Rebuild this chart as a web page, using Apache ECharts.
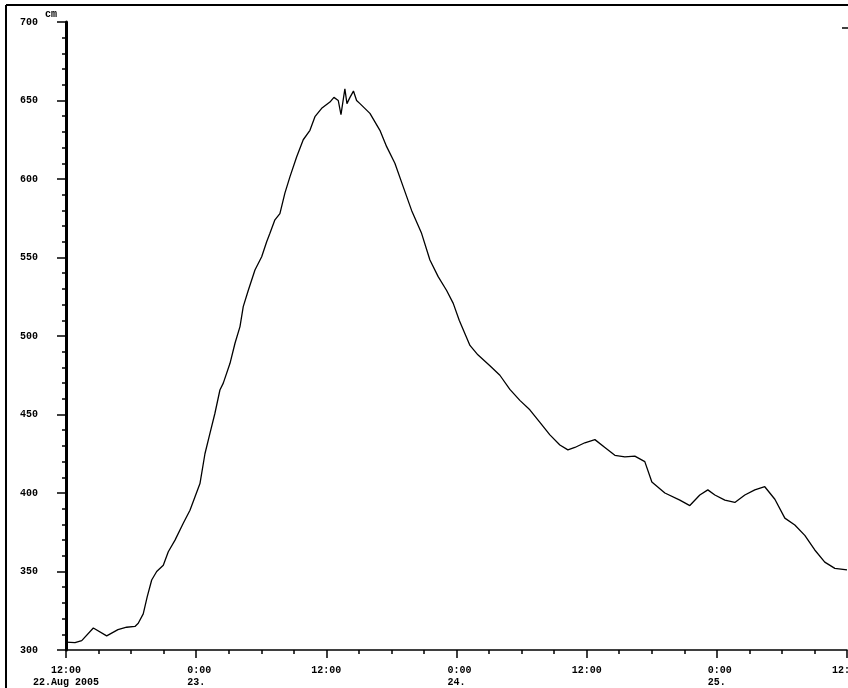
<!DOCTYPE html>
<html>
<head>
<meta charset="utf-8">
<script src="https://cdn.jsdelivr.net/npm/echarts@6/dist/echarts.min.js"></script>
<style>html,body{margin:0;padding:0;background:#fff}#c{width:848px;height:688px}</style>
</head>
<body>
<div id="c"></div>
<script>
// hours since 22 Aug 2005 12:00
var hours = [0,0.83,1.45,2.52,3.75,4.79,5.59,6.36,6.66,7.12,7.49,7.9,8.36,8.97,9.43,10.05,10.81,11.43,
  12.35,12.81,13.27,13.73,14.19,14.5,15.12,15.58,16.04,16.34,16.8,17.42,18.04,18.5,18.8,19.26,19.72,20.18,
  20.65,21.26,21.87,22.49,22.95,23.57,24.33,24.7,25.1,25.35,25.71,25.9,26.18,26.5,26.79,27.1,28.02,28.94,
  29.56,30.32,31.09,31.86,32.78,33.55,34.31,35.09,35.7,36.25,37.24,37.97,39.08,40,40.92,41.84,42.76,43.69,
  44.61,45.53,46.27,46.91,47.83,48.76,49.68,50.6,51.52,52.44,53.36,54.01,55.21,56.59,57.51,58.43,59.17,
  59.82,60.74,61.66,62.58,63.5,64.42,65.35,66.27,67.19,68.11,69.03,69.95,70.88,72];
// water level, cm
var levels = [305,304.7,306,314,309,313,314.5,315,317,323,334,344.6,350,354,362.6,370,380.7,389,
  406,425,438,450.8,465.6,470,482.6,495.4,506,518.7,529,542,550.5,560,565.4,574,578,591,
  601.5,614,625,631,639.7,645,649,652,650,641,657.5,648,652,656,650,648,641.8,631,
  620.6,610,595,580,565.4,548.4,537.8,529,520.8,510,494,488,481,475,466,459,453,445,
  437,430.6,427.5,429,432,434,429,424,423,423.5,420,407,400,395.5,392,398.7,402,
  398.7,395.5,394,398.7,402,404,396,384,379.6,373,363.7,356,352,351];
var xTickValues = [0,12,24,36,48,60,72];
var xTickLabels = ['12:00\n22.Aug 2005','\u00a00:00\n\u00a023.\u00a0','12:00','\u00a00:00\n\u00a024.\u00a0','12:00','\u00a00:00\n\u00a025.\u00a0','12:00'];
var yUnit = 'cm';

var data = hours.map(function(h,i){return [h, levels[i]];});
var font = "'Liberation Mono', 'DejaVu Sans Mono', monospace";
var chart = echarts.init(document.getElementById('c'), null, {renderer:'canvas'});
chart.setOption({
  animation:false,
  backgroundColor:'#fff',
  grid:{left:66,right:1,top:22,bottom:38,containLabel:false,outerBoundsMode:'none'},
  xAxis:{
    type:'value',min:0,max:72,interval:12,
    axisLine:{show:true,lineStyle:{color:'#000',width:1.5}},
    axisTick:{show:true,length:8,lineStyle:{color:'#000',width:1.5}},
    minorTick:{show:true,splitNumber:4,length:4,lineStyle:{color:'#000',width:1.5}},
    splitLine:{show:false},
    axisLabel:{
      show:true,margin:14,color:'#000',fontFamily:font,fontSize:10,fontWeight:'bold',lineHeight:12,
      showMinLabel:true,showMaxLabel:true,hideOverlap:false,
      formatter:function(v){var i=xTickValues.indexOf(v);return i>=0?xTickLabels[i]:'';}
    }
  },
  yAxis:{
    type:'value',min:300,max:700,interval:50,
    name:yUnit,nameLocation:'end',nameGap:3,
    nameTextStyle:{color:'#000',fontFamily:font,fontSize:10,fontWeight:'bold',align:'right',padding:[0,9,0,0]},
    axisLine:{show:true,lineStyle:{color:'#000',width:3}},
    axisTick:{show:true,length:9,lineStyle:{color:'#000',width:1.5}},
    minorTick:{show:true,splitNumber:5,length:4,lineStyle:{color:'#000',width:1.5}},
    splitLine:{show:false},
    axisLabel:{margin:28,color:'#000',fontFamily:font,fontSize:10,fontWeight:'bold'}
  },
  graphic:[
    {type:'line',shape:{x1:6,y1:5,x2:848,y2:5},style:{stroke:'#000',lineWidth:2}},
    {type:'line',shape:{x1:6,y1:5,x2:6,y2:688},style:{stroke:'#000',lineWidth:2}},
    {type:'line',shape:{x1:842,y1:28,x2:848,y2:28},style:{stroke:'#000',lineWidth:1.5}}
  ],
  series:[{
    type:'line',data:data,showSymbol:false,smooth:false,
    lineStyle:{color:'#000',width:1.3},
    itemStyle:{color:'#000'}
  }]
});
</script>
</body>
</html>
